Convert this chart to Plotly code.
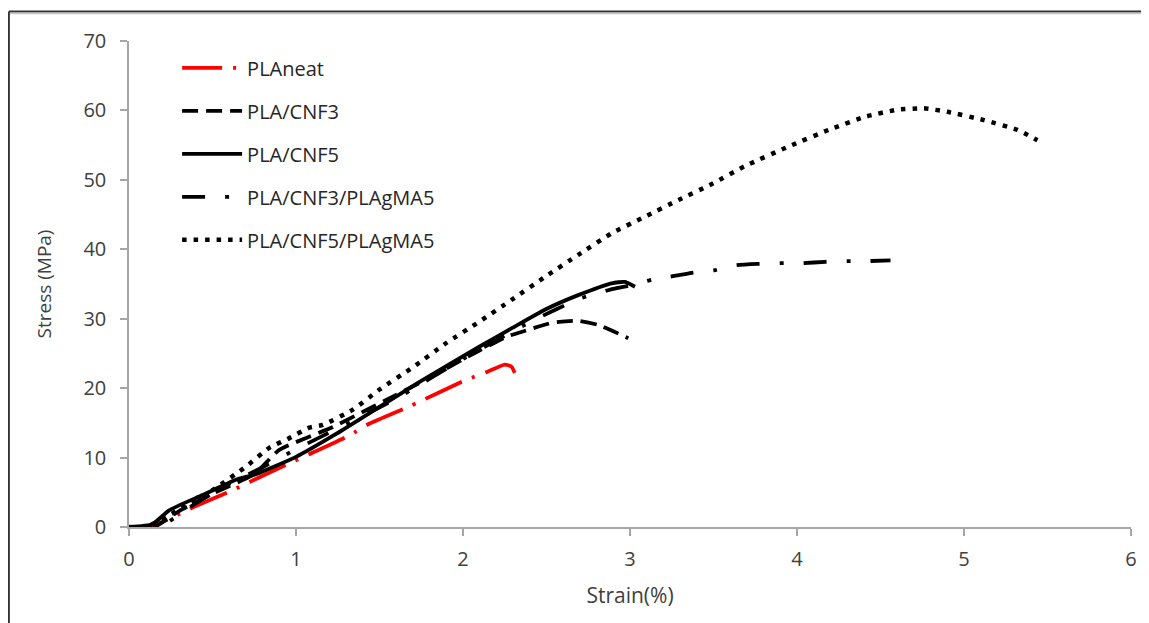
import plotly.graph_objects as go

# strain (%) / stress (MPa)
neat_strain = [0.0, 0.10, 0.14, 0.26, 0.39, 0.62, 0.75, 0.98, 1.09, 1.32, 1.44, 1.69, 2.02, 2.14, 2.25, 2.29, 2.31]
neat_stress = [0.0, 0.0, 0.1, 1.4, 2.9, 5.3, 6.8, 9.4, 10.6, 13.2, 14.9, 17.5, 21.2, 22.3, 23.4, 23.1, 22.2]

cnf3_strain = [0.0, 0.15, 0.3, 0.5, 0.75, 0.90, 1.22, 1.54, 1.80, 2.05, 2.26, 2.39, 2.53, 2.69, 2.81, 2.99]
cnf3_stress = [0.0, 0.0, 2.3, 4.8, 7.6, 11.1, 14.4, 18.3, 21.5, 24.8, 27.4, 28.4, 29.4, 29.7, 29.1, 27.2]

cnf5_strain = [0.0, 0.14, 0.24, 0.44, 0.64, 0.76, 1.0, 1.24, 1.50, 1.72, 2.10, 2.29, 2.49, 2.69, 2.89, 2.97, 3.03]
cnf5_stress = [0.0, 0.4, 2.4, 4.6, 6.8, 7.6, 10.1, 13.4, 17.3, 20.6, 26.0, 28.6, 31.3, 33.4, 35.1, 35.3, 34.6]

cnf3ma_strain = [0.0, 0.18, 0.4, 0.6, 0.8, 1.0, 1.3, 1.6, 2.0, 2.4, 2.7, 2.9, 3.0, 3.13, 3.23, 3.37,
                 3.51, 3.63, 3.77, 3.91, 4.03, 4.17, 4.30, 4.42, 4.56]
cnf3ma_stress = [0.0, 0.0, 3.4, 6.2, 8.6, 11.2, 14.8, 18.5, 24.2, 29.5, 32.9, 34.3, 34.8, 35.6, 36.0, 36.6,
                 37.0, 37.7, 37.9, 38.0, 38.0, 38.2, 38.3, 38.3, 38.4]

cnf5ma_strain = [0.0, 0.1, 0.3, 0.5, 0.70, 0.84, 0.96, 1.08, 1.16, 1.34, 1.50, 1.70, 1.90, 2.10, 2.29, 2.49,
                 2.69, 2.89, 3.09, 3.29, 3.49, 3.69, 3.95, 4.20, 4.41, 4.60, 4.76, 4.90, 5.12, 5.32, 5.44]
cnf5ma_stress = [0.0, 0.0, 2.5, 5.3, 8.7, 11.4, 12.8, 14.3, 14.7, 16.9, 19.8, 23.0, 26.5, 29.6, 32.7, 36.0,
                 39.2, 42.3, 44.7, 47.1, 49.4, 52.0, 54.8, 57.3, 59.1, 60.1, 60.3, 59.8, 58.6, 57.2, 55.7]

series = [
    ("PLAneat", neat_strain, neat_stress, "#ff0000", 3.8, "40px,11px,3px,11px"),
    ("PLA/CNF3", cnf3_strain, cnf3_stress, "black", 3.8, "16px,8px"),
    ("PLA/CNF5", cnf5_strain, cnf5_stress, "black", 3.8, "solid"),
    ("PLA/CNF3/PLAgMA5", cnf3ma_strain, cnf3ma_stress, "black", 3.8, "23px,20px,4px,20px"),
    ("PLA/CNF5/PLAgMA5", cnf5ma_strain, cnf5ma_stress, "black", 4.5, "4.5px,7px"),
]

fig = go.Figure()
for name, xs, ys, color, lw, dash in series:
    fig.add_trace(go.Scatter(
        x=xs, y=ys, mode='lines', name=name, legendgroup=name,
        line=dict(color=color, width=lw, dash=dash, shape='spline', smoothing=0.5),
    ))

axis_common = dict(
    showgrid=False, zeroline=False,
    showline=True, linecolor='#a6a6a6', linewidth=1.5,
    ticks='outside', ticklen=7, tickcolor='#a6a6a6', tickwidth=1.5,
    tickfont=dict(size=20, color='#404040'),
)

# the page body adds 8px on the left/top, so the figure is 8px smaller
fig.update_layout(
    width=1141, height=615,
    margin=dict(l=121, r=15, t=33, b=96),
    paper_bgcolor='white', plot_bgcolor='white',
    font=dict(family='Open Sans, Lato, sans-serif', color='#404040'),
    xaxis=dict(range=[0, 6], dtick=1, title=dict(text='Strain(%)', font=dict(size=21), standoff=18),
               ticklabelstandoff=6, **axis_common),
    yaxis=dict(range=[0, 70], dtick=10, title=dict(text='Stress (MPa)', font=dict(size=19), standoff=27),
               ticklabelstandoff=10, **axis_common),
    legend=dict(x=0.048, y=0.985, xanchor='left', yanchor='top',
                font=dict(size=20, color='#262626'), tracegroupgap=14,
                itemwidth=60, bgcolor='rgba(0,0,0,0)'),
    showlegend=True,
)

# outer frame (top and left edges only, as in the original)
fig.add_shape(type='line', xref='paper', yref='paper', x0=-0.1199, x1=1.02, y0=1.0607, y1=1.0607,
              line=dict(color='#333333', width=2))
fig.add_shape(type='line', xref='paper', yref='paper', x0=-0.1199, x1=1.02, y0=1.0565, y1=1.0565,
              line=dict(color='#c8c8c8', width=1.5))
fig.add_shape(type='line', xref='paper', yref='paper', x0=-0.1199, x1=-0.1199, y0=1.0607, y1=-0.21,
              line=dict(color='#333333', width=2))

fig.write_html("out.html")
